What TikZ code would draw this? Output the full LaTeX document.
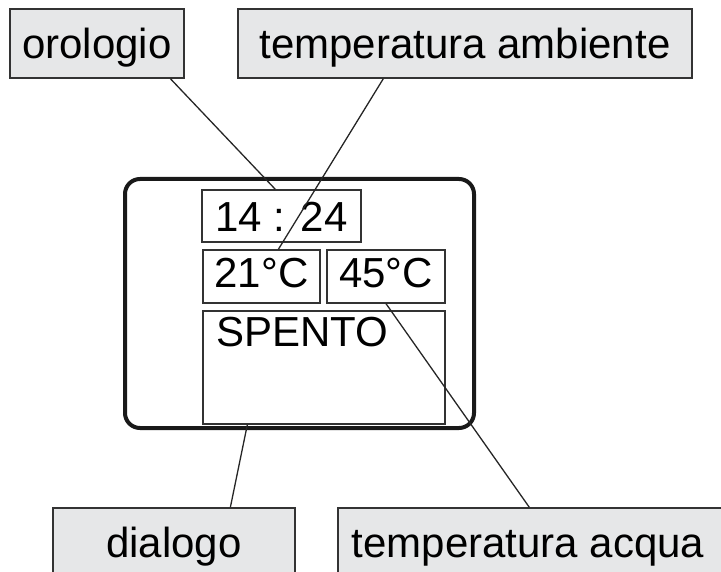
\documentclass[tikz,border=0pt]{standalone}
\usepackage{fontspec}
\setmainfont{Liberation Sans}
\usetikzlibrary{calc}
\definecolor{boxfill}{HTML}{E6E7E8}
\definecolor{boxline}{HTML}{333333}
\begin{document}
\begin{tikzpicture}[x=1pt,y=-1pt,
  lblbox/.style={draw=boxline,fill=boxfill,line width=1.3pt,inner sep=0pt,
    font=\fontsize{42}{48}\selectfont},
  dispbox/.style={draw=boxline,line width=1.3pt,inner sep=0pt,
    font=\fontsize{42}{48}\selectfont},
  conn/.style={draw=black!85,line width=1.3pt},
  frame/.style={draw=black!90,line width=4pt,rounded corners=15pt}]
\useasboundingbox (0,0) rectangle (721,572);
\begin{scope}
\clip (0,0) rectangle (721,572);
% label boxes
\node[lblbox,minimum width=174pt,minimum height=69pt,text height=31pt,text depth=0pt] (oro) at (97,43.5) {orologio};
\node[lblbox,minimum width=454pt,minimum height=69pt,text height=31pt,text depth=0pt] (amb) at (465,43.5) {temperatura ambiente};
\node[lblbox,minimum width=242pt,minimum height=80pt,text height=31pt,text depth=13pt] (dia) at (174,548) {dialogo};
\node[lblbox,minimum width=394pt,minimum height=80pt,text height=31pt,text depth=13pt] (acq) at (535,548) {\hspace*{-14pt}temperatura acqua};
% device frame
\node[frame,minimum width=349pt,minimum height=249pt] (dev) at (299.5,303.5) {};
% display fields
\node[dispbox,minimum width=159pt,minimum height=52pt,text height=32pt,text depth=0pt] (clk) at (281.5,216) {14 : 24};
\node[dispbox,minimum width=117pt,minimum height=53pt,text height=31pt,text depth=8pt] (t21) at (261.5,276.5) {21°C};
\node[dispbox,minimum width=118pt,minimum height=53pt,text height=31pt,text depth=8pt] (t45) at (386,276.5) {45°C};
\node[dispbox,minimum width=242pt,minimum height=113pt] (msg) at (324,367.5) {};
\node[anchor=base west,inner sep=0pt,font=\fontsize{42}{48}\selectfont] (msgtxt) at (216,347) {SPENTO};
% connectors
\draw[conn] ($(oro.south west)+(161,0)$) -- ($(clk.north west)+(74,0)$);
\draw[conn] ($(amb.south west)+(146,0)$) -- ($(t21.north west)+(76,0)$);
\draw[conn] ($(msg.south west)+(45,0)$) -- ($(dia.north west)+(178,0)$);
\draw[conn] (t45.south) -- ($(acq.north west)+(192,0)$);
\end{scope}
\end{tikzpicture}
\end{document}
